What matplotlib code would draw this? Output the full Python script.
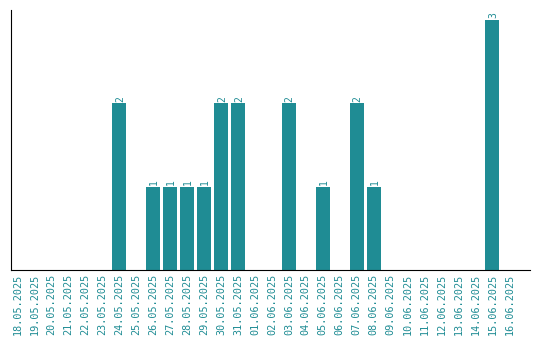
import matplotlib
matplotlib.use("Agg")
from matplotlib import pyplot as plt
import numpy as np

dates = ["18.05.2025", "19.05.2025", "20.05.2025", "21.05.2025", "22.05.2025",
         "23.05.2025", "24.05.2025", "25.05.2025", "26.05.2025", "27.05.2025",
         "28.05.2025", "29.05.2025", "30.05.2025", "31.05.2025", "01.06.2025",
         "02.06.2025", "03.06.2025", "04.06.2025", "05.06.2025", "06.06.2025",
         "07.06.2025", "08.06.2025", "09.06.2025", "10.06.2025", "11.06.2025",
         "12.06.2025", "13.06.2025", "14.06.2025", "15.06.2025", "16.06.2025"]
counts = [0, 0, 0, 0, 0, 0, 2, 0, 1, 1, 1, 1, 2, 2, 0,
          0, 2, 0, 1, 0, 2, 1, 0, 0, 0, 0, 0, 0, 3, 0]

teal = "#1f8c94"

fig = plt.figure(figsize=(5.4, 3.4), dpi=100)
ax = fig.add_axes([10.5 / 540, 70 / 340, 520 / 540, 260 / 340])

x = np.arange(len(dates))
ax.bar(x, counts, width=0.82, color=teal)

for xi, c in zip(x, counts):
    if c > 0:
        ax.text(xi + 0.05, c + 0.02, str(c), rotation=90, ha="center", va="bottom",
                color=teal, fontsize=7, family="DejaVu Sans Mono")

ax.set_xlim(-0.42, 30.25)
ax.set_ylim(0, 3.12)
ax.set_xticks(x)
ax.set_xticklabels(dates, rotation=90, color=teal, fontsize=7.3,
                   family="DejaVu Sans Mono")
ax.tick_params(axis="x", length=0, pad=3)
ax.set_yticks([])
ax.spines["top"].set_visible(False)
ax.spines["right"].set_visible(False)

fig.savefig("out.png", dpi=100)
